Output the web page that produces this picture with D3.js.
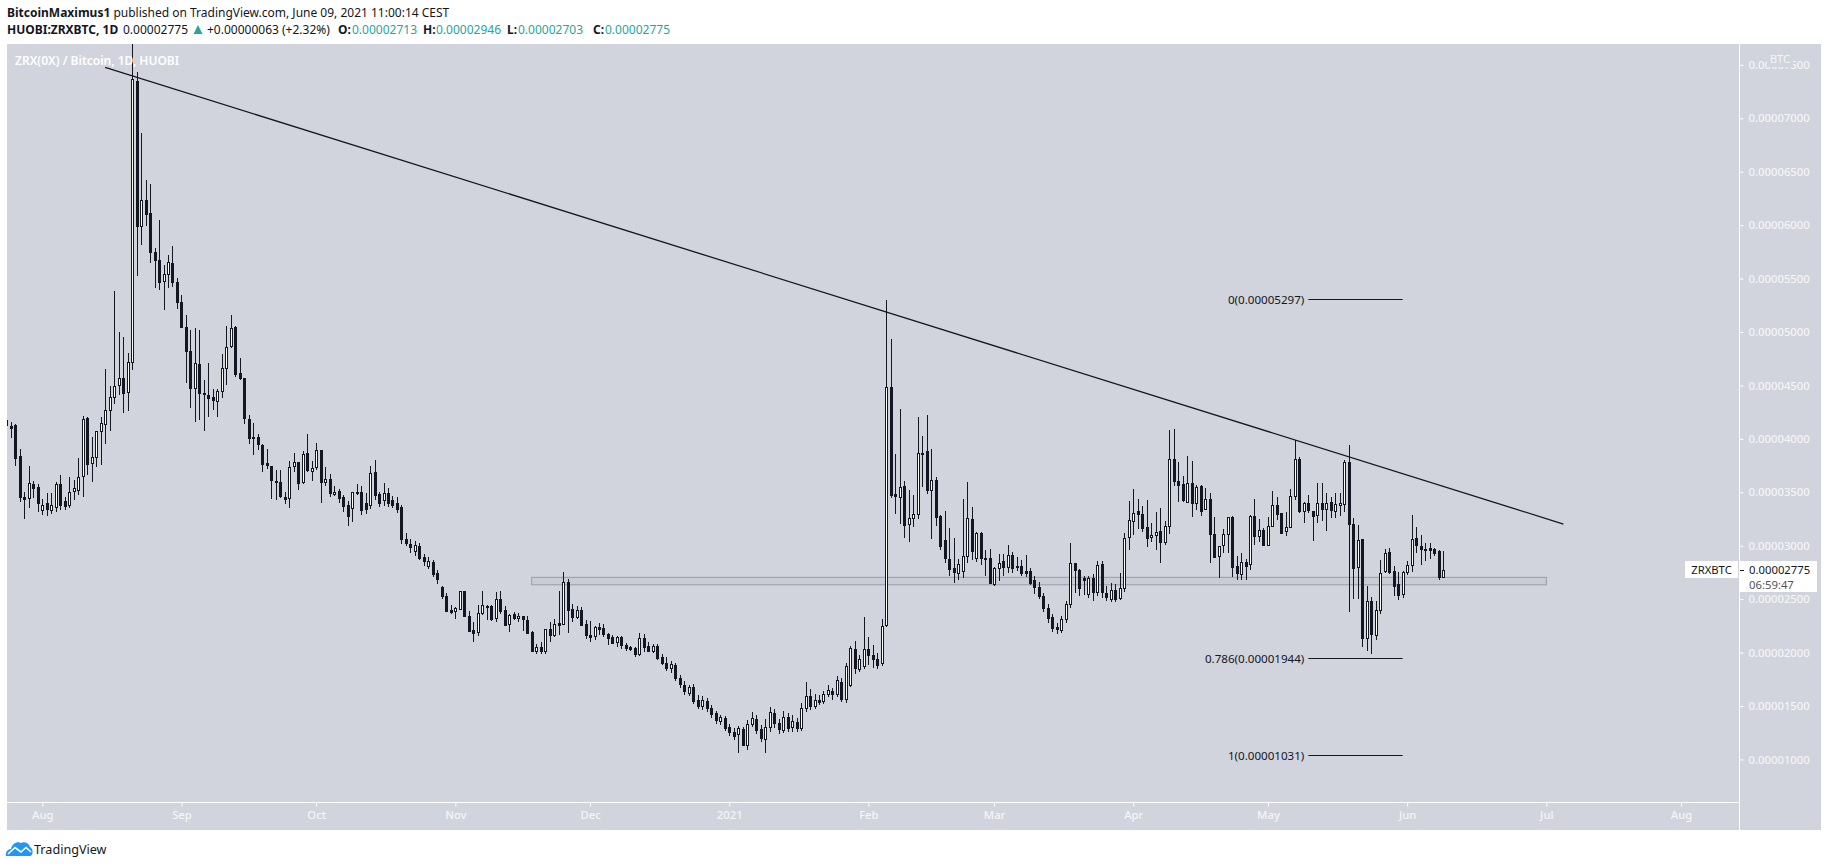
<!DOCTYPE html>
<html lang="en">
<head>
<meta charset="utf-8">
<title>ZRXBTC</title>
<script src="https://d3js.org/d3.v7.min.js"></script>
<style>
  body { margin: 0; padding: 0; background: #fff; }
  svg { display: block; }
  text { font-family: "Noto Sans", sans-serif; font-size: 12px; }
  text.small { font-size: 11.3px; }
  text.fib { font-size: 11.6px; }
  .tick text { font-size: 11.3px; }
</style>
</head>
<body>
<div id="chart"></div>
<script>
// prices are in units of 0.00000001 BTC, one row per ten days
// first candle is 8 days before Aug 1 2020
var firstDay = -8;

var opens = [
  4180,4120,4129,3839,3452,3443,3574,3549,3330,3400,
  3330,3360,3574,3420,3380,3505,3527,3646,4195,3771,
  3824,4067,4132,4264,4388,4498,4566,4432,4716,7349,
  5992,6235,6113,5746,5674,5471,5540,5643,5465,5278,
  5044,4819,4469,4697,4426,4410,4388,4348,4441,4669,
  4863,5044,4613,4566,4182,4014,4014,3942,3771,3743,
  3602,3593,3459,3449,3749,3780,3590,3864,3702,3730,
  3892,3590,3624,3487,3508,3452,3380,3350,3499,3499,
  3400,3380,3686,3484,3420,3490,3430,3400,3360,3060,
  3020,2950,3000,2890,2810,2850,2740,2610,2529,2394,
  2382,2407,2572,2341,2207,2185,2363,2438,2435,2316,
  2497,2398,2260,2357,2316,2338,2304,2189,2008,2048,
  2008,2217,2164,2273,2267,2657,2404,2332,2398,2267,
  2164,2148,2235,2226,2173,2145,2092,2145,2070,2048,
  2042,1986,2135,2061,2014,2061,1958,1900,1850,1880,
  1760,1700,1620,1680,1560,1500,1550,1480,1430,1360,
  1390,1300,1260,1230,1280,1130,1330,1380,1280,1190,
  1300,1430,1340,1280,1400,1300,1350,1290,1480,1590,
  1500,1560,1540,1610,1640,1610,1720,1560,1700,2032,
  1850,1870,2032,1976,1939,1900,2250,4485,3480,3449,
  3558,3199,3255,3293,3864,3882,3514,3614,3277,3050,
  2880,2790,2750,2760,2900,3246,2880,3116,2885,2882,
  2640,2797,2857,2797,2910,2807,2810,2763,2763,2680,
  2610,2530,2420,2330,2240,2210,2310,2450,2835,2769,
  2700,2540,2694,2560,2825,2560,2510,2590,2510,2600,
  3075,3225,3322,3297,3172,3075,3094,3134,3028,3181,
  3808,3602,3574,3406,3584,3400,3559,3340,3434,3109,
  2897,3003,3103,3272,2810,2732,2847,2825,3278,3094,
  3146,3006,3183,3380,3305,3130,3174,3458,3811,3318,
  3396,3321,3280,3396,3339,3405,3318,3374,3386,3779,
  3199,2793,3059,2130,2480,2170,2400,2756,2937,2762,
  2640,2540,2747,2812,3068,2996,2965,2974,2968,2949,2713
];
var highs = [
  4207,4157,4139,3902,3502,3746,3605,3577,3434,3490,
  3490,3593,3661,3459,3640,3611,3817,4211,4200,4020,
  4075,4204,4650,4494,5384,4997,4950,4800,7900,7433,
  6862,6422,6385,5783,6048,5627,5721,5805,5502,5346,
  5159,5019,5034,5019,4551,4710,4466,4466,4791,5056,
  5159,5056,4756,4566,4220,4148,4042,3952,3902,3743,
  3708,3708,3505,3793,3864,3780,3886,4042,3789,3958,
  3892,3733,3671,3555,3530,3471,3420,3499,3577,3555,
  3490,3746,3802,3499,3587,3540,3468,3455,3380,3120,
  3060,3040,3030,2920,2890,2870,2770,2619,2554,2441,
  2423,2572,2572,2388,2282,2444,2572,2444,2444,2566,
  2572,2438,2363,2376,2366,2338,2341,2198,2079,2098,
  2223,2285,2310,2575,2753,2685,2451,2435,2426,2304,
  2295,2248,2276,2267,2182,2164,2151,2154,2089,2061,
  2051,2182,2176,2098,2079,2079,1983,1960,1920,1900,
  1790,1730,1700,1710,1600,1590,1570,1510,1450,1420,
  1410,1330,1290,1310,1300,1370,1440,1420,1320,1380,
  1490,1470,1380,1450,1430,1420,1390,1530,1720,1660,
  1610,1600,1640,1700,1670,1780,1760,1900,2057,2107,
  1980,2332,2145,2070,1995,2313,5297,4934,3858,4279,
  3605,3521,3474,4201,4026,4223,3904,3642,3287,3324,
  3165,3068,2880,3436,3592,3361,3125,3130,2960,2969,
  2800,2919,2919,3006,2941,2897,2866,2910,2788,2716,
  2660,2560,2450,2360,2280,2340,2480,3025,2840,2780,
  2720,2720,2738,2857,2857,2620,2650,2640,2741,3119,
  3418,3527,3434,3371,3424,3212,3312,3350,3228,4083,
  4092,3783,3651,3836,3790,3565,3565,3540,3490,3265,
  2994,3153,3265,3278,2900,2932,2872,3284,3434,3250,
  3162,3268,3511,3452,3305,3311,3527,3985,3829,3408,
  3474,3321,3583,3583,3489,3452,3489,3489,3798,3942,
  3255,3190,3059,2620,2520,2480,2865,2965,2974,2809,
  2756,2760,2856,3286,3174,3099,3024,3024,2978,2959,2946
];
var lows = [
  4098,4011,3749,3412,3250,3350,3443,3320,3290,3280,
  3300,3320,3330,3330,3350,3428,3474,3459,3661,3599,
  3739,3755,3952,4076,4329,4410,4245,4260,4644,5524,
  5815,5992,5649,5415,5393,5206,5415,5424,5218,5034,
  4526,4292,4161,4176,4076,4207,4270,4207,4385,4507,
  4853,4582,4551,4142,3955,3852,3899,3693,3721,3440,
  3430,3443,3390,3350,3693,3524,3580,3693,3608,3708,
  3400,3558,3452,3465,3400,3320,3180,3220,3477,3290,
  3300,3340,3428,3360,3370,3360,3350,3310,3020,3000,
  2930,2900,2870,2810,2780,2710,2640,2500,2391,2363,
  2316,2398,2332,2201,2101,2157,2354,2304,2298,2288,
  2363,2257,2192,2307,2285,2201,2176,2004,1989,1986,
  1989,2098,2148,2164,2257,2185,2285,2316,2248,2126,
  2098,2117,2167,2148,2070,2079,2051,2033,2014,2014,
  1958,1967,2004,2004,1995,1933,1880,1830,1810,1730,
  1670,1600,1590,1520,1470,1460,1440,1390,1330,1320,
  1270,1220,1180,1060,1130,1090,1300,1240,1160,1060,
  1260,1290,1240,1250,1260,1260,1260,1270,1440,1460,
  1470,1510,1520,1580,1560,1580,1540,1530,1680,1800,
  1820,1850,1880,1860,1850,1870,2240,3449,3299,3205,
  3074,3037,3177,3252,3549,3483,3062,3187,2960,2840,
  2720,2650,2680,2700,2840,2870,2850,2820,2720,2640,
  2620,2670,2716,2740,2741,2760,2716,2710,2630,2550,
  2500,2380,2280,2190,2170,2180,2280,2420,2560,2530,
  2540,2510,2480,2530,2510,2480,2470,2470,2490,2570,
  2963,3100,3156,3128,2988,3034,2960,2841,3003,3109,
  3559,3412,3409,3400,3268,3334,3281,3334,2841,2894,
  2694,2932,2932,2710,2679,2679,2680,2769,3006,3038,
  3000,3000,3177,3240,3109,3093,3162,3430,3308,3215,
  3305,3046,3215,3233,3140,3261,3258,3280,3318,2380,
  2500,2500,2050,2010,1985,2120,2360,2740,2731,2530,
  2490,2510,2725,2756,2928,2818,2859,2871,2903,2680,2703
];
var closes = [
  4130,4100,3824,3459,3434,3583,3537,3400,3380,3340,
  3380,3574,3380,3370,3505,3537,3646,4182,3767,3827,
  4070,4145,4267,4388,4491,4566,4423,4716,7368,5992,
  6235,6104,5752,5668,5471,5540,5652,5462,5274,5040,
  4816,4469,4707,4423,4413,4385,4357,4445,4660,4863,
  5034,4607,4563,4189,4001,4001,3945,3767,3749,3608,
  3593,3459,3437,3739,3786,3580,3855,3708,3730,3892,
  3590,3621,3496,3505,3443,3370,3280,3499,3490,3330,
  3340,3677,3474,3400,3490,3400,3380,3340,3060,3020,
  2990,3010,2890,2850,2860,2740,2680,2522,2391,2376,
  2413,2572,2335,2204,2176,2366,2441,2429,2316,2497,
  2388,2260,2348,2316,2338,2307,2185,2008,2048,2008,
  2217,2157,2263,2257,2657,2398,2332,2394,2257,2164,
  2148,2235,2220,2167,2139,2086,2142,2070,2042,2033,
  1986,2132,2051,2014,2058,1945,1900,1850,1890,1760,
  1700,1640,1680,1550,1500,1560,1480,1420,1360,1400,
  1300,1250,1220,1290,1130,1330,1390,1280,1200,1300,
  1440,1340,1280,1400,1300,1360,1290,1480,1590,1500,
  1560,1540,1610,1650,1610,1740,1560,1870,2042,1850,
  1940,2032,1976,1939,1880,2248,4482,3474,3458,3546,
  3196,3256,3293,3864,3851,3514,3611,3271,3000,2880,
  2790,2750,2830,2900,3255,2950,3115,2880,2875,2650,
  2788,2841,2797,2910,2788,2797,2741,2747,2650,2610,
  2530,2420,2330,2230,2220,2310,2450,2835,2766,2600,
  2680,2694,2560,2816,2560,2520,2590,2510,2600,3069,
  3237,3303,3293,3169,3066,3097,3125,3034,3181,3808,
  3599,3568,3421,3584,3400,3546,3325,3434,3103,2897,
  2994,3109,3265,2804,2741,2844,2813,3278,3094,3147,
  3006,3180,3377,3296,3115,3171,3461,3807,3327,3396,
  3327,3274,3396,3336,3396,3327,3386,3396,3779,3196,
  2784,3049,2130,2480,2170,2400,2747,2928,2747,2620,
  2540,2750,2815,3059,2999,2965,2953,2959,2931,2709,2775
];

var priceTicks = [1000,1500,2000,2500,3000,3500,4000,4500,5000,5500,6000,6500,7000,7500];
var monthTicks = ["2020-08-01","2020-09-01","2020-10-01","2020-11-01","2020-12-01","2021-01-01","2021-02-01","2021-03-01","2021-04-01","2021-05-01","2021-06-01","2021-07-02","2021-08-01"];
var monthLabels = ["Aug","Sep","Oct","Nov","Dec","2021","Feb","Mar","Apr","May","Jun","Jul","Aug"];

// drawings on the chart
var trendDays = [14, 338.8];
var trendPrices = [7477, 3203];
var zoneDays = [109, 335];
var zonePrices = [2704, 2634];
var fibLevels = ["0", "0.786", "1"];
var fibPrices = [5297, 1944, 1031];
var fibDays = [282, 303];
var lastPrice = 2775;

var width = 1828, height = 867;
var dark = "#131722", bg = "#d1d4dc", teal = "#26a69a", tickCol = "#f4f5f7";
var plot = {left: 7, right: 1821, top: 44, bottom: 830, axisX: 1739.5, axisY: 802.5};

var aug1 = Date.UTC(2020, 7, 1);
function dayDate(d) { return new Date(aug1 + d * 864e5); }
function fmt(p) { return (p / 1e8).toFixed(8); }

var x = d3.scaleUtc()
  .domain([new Date("2020-08-01"), new Date("2021-08-01")])
  .range([42.3, 1681]);
var y = d3.scaleLinear()
  .domain([1000, 7500])
  .range([759.4, 64.9]);

var svg = d3.select("#chart").append("svg")
  .attr("width", width)
  .attr("height", height);

svg.append("rect")
  .attr("x", plot.left).attr("y", plot.top)
  .attr("width", plot.right - plot.left)
  .attr("height", plot.bottom - plot.top)
  .attr("fill", bg);

svg.append("clipPath").attr("id", "pane").append("rect")
  .attr("x", plot.left).attr("y", plot.top)
  .attr("width", plot.axisX - plot.left)
  .attr("height", plot.axisY - plot.top);

// header lines
var head1 = svg.append("text").attr("x", 7).attr("y", 17).attr("fill", dark);
head1.append("tspan").attr("font-weight", "bold").text("BitcoinMaximus1");
head1.append("tspan").text(" published on TradingView.com, June 09, 2021 11:00:14 CEST");

var head2 = svg.append("text").attr("y", 34).attr("fill", dark);
head2.append("tspan").attr("x", 7).attr("font-weight", "bold").text("HUOBI:ZRXBTC, 1D");
head2.append("tspan").attr("x", 123).text("0.00002775");
head2.append("tspan").attr("x", 207).text("+0.00000063 (+2.32%)");
var ohlcLabels = ["O:", "H:", "L:", "C:"];
var ohlcValues = [2713, 2946, 2703, 2775];
var labelX = [338, 423, 507, 593];
var valueX = [352, 436, 518, 605];
ohlcLabels.forEach(function (lab, i) {
  head2.append("tspan").attr("x", labelX[i]).attr("font-weight", "bold").text(lab);
  head2.append("tspan").attr("x", valueX[i]).attr("fill", teal).text(fmt(ohlcValues[i]));
});
svg.append("path")
  .attr("d", "M193.5 34 L198 25 L202.5 34 Z")
  .attr("fill", teal);

var pane = svg.append("g").attr("clip-path", "url(#pane)");

// support zone sits behind the candles
pane.append("rect")
  .attr("x", x(dayDate(zoneDays[0])))
  .attr("y", y(zonePrices[0]))
  .attr("width", x(dayDate(zoneDays[1])) - x(dayDate(zoneDays[0])))
  .attr("height", y(zonePrices[1]) - y(zonePrices[0]))
  .attr("fill", "#9598a1").attr("fill-opacity", 0.12)
  .attr("stroke", "#9a9ca6").attr("stroke-width", 1);

var candles = opens.map(function (o, i) {
  return {day: firstDay + i, o: o, h: highs[i], l: lows[i], c: closes[i]};
});

var g = pane.selectAll("g.candle").data(candles).enter().append("g")
  .attr("class", "candle")
  .attr("shape-rendering", "crispEdges")
  .attr("transform", function (d) { return "translate(" + Math.round(x(dayDate(d.day))) + ",0)"; });

g.append("line")
  .attr("x1", 0.5).attr("x2", 0.5)
  .attr("y1", function (d) { return y(d.h); })
  .attr("y2", function (d) { return y(d.l); })
  .attr("stroke", dark);

g.append("rect")
  .attr("x", -0.5)
  .attr("width", 2)
  .attr("y", function (d) { return Math.round(y(Math.max(d.o, d.c))) + 0.5; })
  .attr("height", function (d) { return Math.max(1, Math.round(Math.abs(y(d.o) - y(d.c)))); })
  .attr("fill", function (d) { return d.c >= d.o ? "#fff" : dark; })
  .attr("stroke", dark);

// pane title goes over the candles
svg.append("text")
  .attr("x", 15).attr("y", 65)
  .attr("fill", "#fff").attr("font-weight", 600)
  .text("ZRX(0X) / Bitcoin, 1D, HUOBI");

// trend line
pane.append("path")
  .datum(trendDays.map(function (d, i) { return [x(dayDate(d)), y(trendPrices[i])]; }))
  .attr("d", d3.line())
  .attr("fill", "none")
  .attr("stroke", dark)
  .attr("stroke-width", 1.3);

// fib levels
fibPrices.forEach(function (p, i) {
  pane.append("line")
    .attr("x1", x(dayDate(fibDays[0]))).attr("x2", x(dayDate(fibDays[1])))
    .attr("y1", Math.round(y(p)) - 0.5).attr("y2", Math.round(y(p)) - 0.5)
    .attr("stroke", dark);
  pane.append("text")
    .attr("class", "fib")
    .attr("x", x(dayDate(fibDays[0])) - 4)
    .attr("y", Math.round(y(p)) + 3.5)
    .attr("text-anchor", "end")
    .attr("fill", dark)
    .text(fibLevels[i] + "(" + fmt(p) + ")");
});

// axes
svg.append("line")
  .attr("x1", plot.axisX).attr("x2", plot.axisX)
  .attr("y1", plot.top).attr("y2", plot.bottom)
  .attr("stroke", "#fff");
svg.append("line")
  .attr("x1", plot.left).attr("x2", plot.axisX)
  .attr("y1", plot.axisY).attr("y2", plot.axisY)
  .attr("stroke", "#fff");

var yAxis = svg.append("g")
  .attr("transform", "translate(" + plot.axisX + ",0)")
  .call(d3.axisRight(y).tickValues(priceTicks).tickFormat(fmt).tickSize(4).tickPadding(5));
var xAxis = svg.append("g")
  .attr("transform", "translate(0," + plot.axisY + ")")
  .call(d3.axisBottom(x)
    .tickValues(monthTicks.map(function (m) { return new Date(m); }))
    .tickFormat(function (d, i) { return monthLabels[i]; })
    .tickSize(4).tickPadding(4));
[yAxis, xAxis].forEach(function (a) {
  a.attr("font-family", null).attr("font-size", null);
  a.select(".domain").remove();
  a.selectAll("line").attr("stroke", "#fff");
  a.selectAll("text").attr("fill", tickCol).attr("font-weight", 500);
});

// patch behind the currency label hides part of the top tick
svg.append("rect")
  .attr("x", 1767).attr("y", 47).attr("width", 26).attr("height", 20)
  .attr("fill", bg);
svg.append("text")
  .attr("class", "small")
  .attr("x", 1780).attr("y", 63)
  .attr("text-anchor", "middle")
  .attr("fill", tickCol)
  .text("BTC");

// last price tags
var py = Math.round(y(lastPrice));
svg.append("rect").attr("x", 1685).attr("y", py - 9).attr("width", 53).attr("height", 17).attr("fill", "#fff");
svg.append("text").attr("class", "small").attr("x", 1711.5).attr("y", py + 4).attr("text-anchor", "middle").attr("fill", dark).text("ZRXBTC");
svg.append("rect").attr("x", 1740).attr("y", py - 9).attr("width", 77).attr("height", 31).attr("fill", "#fff");
svg.append("line").attr("x1", 1740).attr("x2", 1744).attr("y1", py + 0.5).attr("y2", py + 0.5).attr("stroke", dark);
svg.append("text").attr("class", "small").attr("x", 1749).attr("y", py + 4).attr("fill", dark).text(fmt(lastPrice));
svg.append("text").attr("class", "small").attr("x", 1749).attr("y", py + 19).attr("fill", "#50535e").text("06:59:47");

// footer logo
var logo = svg.append("g").attr("transform", "translate(6,841)");
logo.append("path")
  .attr("d", "M0 15 C-1 11 2 8 5 8 C6 3 11 0 15 2 C18 0 23 2 24 6 C28 8 27 15 24 15 Z")
  .attr("fill", "#2196f3");
logo.append("path")
  .attr("d", "M2 13 L9 6.5 L15 11 L20 6.5 L25 11")
  .attr("fill", "none").attr("stroke", "#fff").attr("stroke-width", 1.6);
svg.append("text")
  .attr("x", 34).attr("y", 854)
  .attr("fill", dark)
  .style("font-size", "12.6px")
  .text("TradingView");
</script>
</body>
</html>
